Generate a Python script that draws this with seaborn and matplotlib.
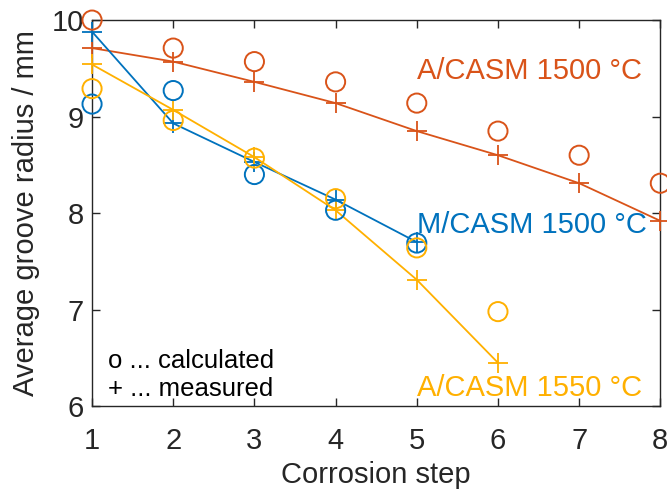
import matplotlib
matplotlib.use("Agg")
import matplotlib.pyplot as plt
import seaborn as sns
import pandas as pd

# Corrosion steps
steps_a1500 = [1, 2, 3, 4, 5, 6, 7, 8]
steps_m1500 = [1, 2, 3, 4, 5]
steps_a1550 = [1, 2, 3, 4, 5, 6]

# A/CASM 1500 °C
a1500_measured = [9.71, 9.57, 9.36, 9.14, 8.85, 8.60, 8.31, 7.92]
a1500_calculated = [10.00, 9.71, 9.57, 9.36, 9.14, 8.85, 8.60, 8.31]

# M/CASM 1500 °C
m1500_measured = [9.88, 8.93, 8.53, 8.14, 7.70]
m1500_calculated = [9.13, 9.27, 8.40, 8.03, 7.69]

# A/CASM 1550 °C
a1550_measured = [9.54, 9.07, 8.58, 8.03, 7.31, 6.45]
a1550_calculated = [9.29, 8.96, 8.57, 8.15, 7.64, 6.98]

series_labels = ["A/CASM 1500 °C", "M/CASM 1500 °C", "A/CASM 1550 °C"]
x_label = "Corrosion step"
y_label = "Average groove radius / mm"
x_ticks = [1, 2, 3, 4, 5, 6, 7, 8]
y_ticks = [6, 7, 8, 9, 10]

colors = ["#D95319", "#0072BD", "#FFB000"]
ink = "#262626"

sns.set_theme(style="white")
plt.rcParams["font.family"] = ["Liberation Sans", "DejaVu Sans"]

fig = plt.figure(figsize=(6.67, 4.90), dpi=100)
ax = fig.add_axes([0.138, 0.171, 0.852, 0.788])

groups = [
    (steps_a1500, a1500_measured, a1500_calculated),
    (steps_m1500, m1500_measured, m1500_calculated),
    (steps_a1550, a1550_measured, a1550_calculated),
]

for (xs, meas, calc), col in zip(groups, colors):
    df = pd.DataFrame({"step": xs, "measured": meas, "calculated": calc})
    sns.lineplot(data=df, x="step", y="measured", ax=ax, color=col,
                 linewidth=1.3, marker="+", markersize=15, markeredgewidth=1.3,
                 markeredgecolor=col, clip_on=False, zorder=3)
    sns.scatterplot(data=df, x="step", y="calculated", ax=ax, marker="o",
                    s=190, facecolor="none", edgecolor=col, linewidth=1.4,
                    clip_on=False, zorder=4)

# Series labels
label_pos = [(5.0, 9.47), (5.0, 7.88), (5.0, 6.19)]
for text, (tx, ty), col in zip(series_labels, label_pos, colors):
    ax.text(tx, ty, text, color=col, fontsize=21, ha="left", va="center")

ax.text(1.2, 6.47, "o ... calculated", color="black", fontsize=18.5, ha="left", va="center")
ax.text(1.2, 6.18, "+ ... measured", color="black", fontsize=18.5, ha="left", va="center")

ax.set_xlim(1, 8)
ax.set_ylim(6, 10)
ax.set_xticks(x_ticks)
ax.set_yticks(y_ticks)
ax.set_xlabel(x_label, fontsize=21, color=ink, labelpad=4.5)
ax.set_ylabel(y_label, fontsize=21, color=ink, labelpad=8)
ax.tick_params(axis="x", pad=15)
ax.tick_params(axis="y", pad=6)
ax.tick_params(axis="both", direction="in", length=6, width=1.0, labelsize=21,
               colors=ink, top=True, right=True, bottom=True, left=True)
for sp in ax.spines.values():
    sp.set_visible(True)
    sp.set_color(ink)
    sp.set_linewidth(1.0)

fig.savefig("out.png", dpi=100)
